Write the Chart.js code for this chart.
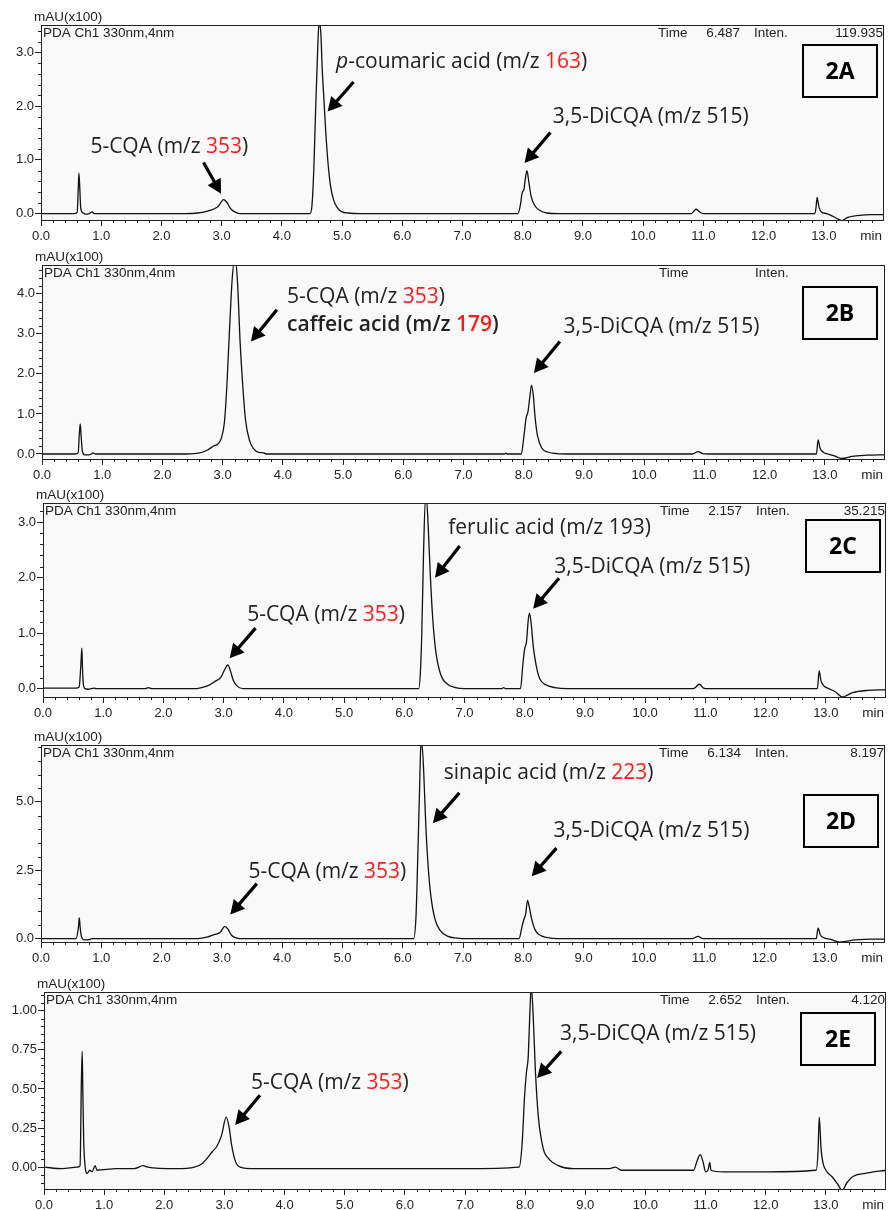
<!DOCTYPE html>
<html><head><meta charset="utf-8">
<script src="https://cdn.jsdelivr.net/npm/chart.js@4.4.1/dist/chart.umd.min.js"></script>
<style>
html,body{margin:0;padding:0;background:#fff;width:889px;height:1210px;overflow:hidden}
canvas{position:absolute;left:0}
</style></head><body>
<canvas id="cA"></canvas><canvas id="cB"></canvas><canvas id="cC"></canvas><canvas id="cD"></canvas><canvas id="cE"></canvas>
<script>
// ---------------- DATA ----------------
const xTickValues = [0,1,2,3,4,5,6,7,8,9,10,11,12,13];

const timeA = [0.00,0.55,0.60,0.62,0.63,0.645,0.66,0.70,0.74,0.80,0.85,0.88,1.50,2.40,2.60,2.75,2.88,2.95,3.03,3.08,3.15,3.22,3.30,4.47,4.50,4.53,4.56,4.59,4.61,4.63,4.65,4.67,4.70,4.73,4.77,4.81,4.86,4.92,5.00,5.10,5.30,7.92,7.96,7.99,8.02,8.05,8.07,8.10,8.14,8.20,8.28,8.40,8.60,10.60,10.80,10.88,10.95,11.00,12.85,12.87,12.89,12.92,12.96,13.05,13.15,13.25,13.30,13.40,13.55,13.80,14.00];
const intenA = [0.00,0.00,0.02,0.50,0.75,0.45,0.10,0.01,-0.01,0.00,0.03,0.00,0.00,0.00,0.01,0.04,0.09,0.14,0.26,0.22,0.09,0.03,0.00,0.00,0.15,0.80,1.90,2.90,3.45,3.55,3.30,2.70,2.10,1.50,0.90,0.50,0.25,0.11,0.03,0.01,0.00,0.00,0.15,0.38,0.45,0.70,0.80,0.60,0.32,0.15,0.06,0.01,0.00,0.00,0.00,0.08,0.02,0.00,0.00,0.10,0.30,0.12,0.03,0.00,-0.05,-0.11,-0.13,-0.07,-0.04,-0.02,-0.02];

const timeB = [0.00,0.55,0.60,0.62,0.635,0.65,0.67,0.71,0.77,0.82,0.85,0.88,2.40,2.60,2.75,2.85,2.92,2.98,3.03,3.07,3.10,3.13,3.16,3.19,3.22,3.25,3.29,3.33,3.38,3.45,3.52,3.60,3.68,3.72,7.68,7.70,7.73,7.96,8.00,8.04,8.07,8.10,8.13,8.16,8.19,8.23,8.30,8.40,8.55,8.80,10.80,10.90,10.97,11.05,12.86,12.89,12.92,12.98,13.05,13.15,13.28,13.35,13.45,13.70,14.00];
const intenB = [0.00,0.00,0.03,0.50,0.75,0.45,0.08,-0.02,-0.02,0.00,0.03,0.00,0.00,0.02,0.10,0.20,0.25,0.40,0.80,1.70,2.65,3.60,4.40,4.78,4.78,4.20,2.80,1.80,0.85,0.32,0.12,0.04,0.03,0.00,0.00,0.02,0.00,0.00,0.40,0.90,1.05,1.40,1.72,1.45,0.90,0.45,0.15,0.05,0.01,0.00,0.00,0.06,0.01,0.00,0.00,0.35,0.15,0.04,0.00,-0.04,-0.11,-0.10,-0.06,-0.03,-0.02];

const timeC = [0.00,0.55,0.60,0.63,0.645,0.655,0.67,0.70,0.75,0.85,0.88,1.70,1.75,1.80,2.50,2.60,2.75,2.87,2.95,3.02,3.07,3.11,3.16,3.22,3.32,6.24,6.27,6.29,6.32,6.35,6.37,6.40,6.43,6.47,6.52,6.60,6.72,6.85,7.00,7.62,7.65,7.68,7.93,7.97,8.00,8.03,8.06,8.08,8.11,8.14,8.19,8.25,8.35,8.50,8.70,10.80,10.90,10.97,11.05,12.86,12.89,12.92,12.98,13.05,13.15,13.28,13.35,13.45,13.70,14.00];
const intenC = [0.01,0.01,0.03,0.45,0.73,0.40,0.08,0.00,-0.01,0.01,0.00,0.00,0.02,0.00,0.00,0.01,0.06,0.14,0.20,0.35,0.43,0.33,0.15,0.05,0.00,0.00,0.35,0.97,2.45,3.40,3.40,2.85,2.10,1.30,0.70,0.27,0.08,0.02,0.00,0.00,0.02,0.00,0.00,0.45,0.72,0.85,1.25,1.36,1.15,0.78,0.42,0.18,0.07,0.02,0.00,0.00,0.08,0.01,0.00,0.00,0.32,0.14,0.04,0.00,-0.05,-0.15,-0.12,-0.07,-0.03,-0.02];

const timeD = [0.00,0.58,0.62,0.635,0.65,0.67,0.72,0.80,0.85,2.60,2.75,2.88,2.97,3.05,3.10,3.16,3.25,3.35,6.18,6.22,6.25,6.28,6.30,6.32,6.35,6.38,6.42,6.47,6.53,6.62,6.75,6.90,7.10,7.93,7.98,8.01,8.04,8.07,8.10,8.14,8.20,8.30,8.45,8.70,10.80,10.90,10.98,12.86,12.89,12.93,13.00,13.10,13.25,13.35,13.50,13.80,14.00];
const intenD = [0.00,0.00,0.40,0.77,0.40,0.08,-0.05,-0.04,0.00,0.00,0.05,0.15,0.22,0.45,0.35,0.12,0.02,0.00,0.00,0.80,3.00,5.50,7.00,7.10,6.00,4.30,2.70,1.50,0.75,0.30,0.08,0.02,0.00,0.00,0.45,0.70,0.90,1.40,1.15,0.70,0.30,0.10,0.02,0.00,0.00,0.08,0.00,0.00,0.38,0.12,0.02,-0.03,-0.13,-0.10,-0.05,-0.02,-0.02];

const timeE = [0.00,0.30,0.55,0.60,0.62,0.635,0.645,0.66,0.68,0.72,0.76,0.80,0.85,0.88,1.20,1.50,1.65,1.72,2.20,2.50,2.62,2.72,2.80,2.87,2.95,3.03,3.08,3.12,3.18,3.26,3.50,4.00,5.00,6.00,7.00,7.90,7.95,7.99,8.02,8.05,8.08,8.10,8.13,8.17,8.22,8.30,8.40,8.55,8.80,9.40,9.50,9.60,10.80,10.86,10.91,10.96,11.00,11.04,11.07,11.09,11.30,12.00,12.84,12.87,12.89,12.92,12.95,13.00,13.10,13.20,13.27,13.35,13.45,13.65,14.00];
const intenE = [0.00,-0.01,0.00,0.01,0.51,0.74,0.50,0.17,0.02,-0.04,-0.02,-0.03,0.01,-0.02,-0.01,-0.01,0.01,0.00,-0.01,0.00,0.02,0.06,0.10,0.13,0.20,0.32,0.25,0.14,0.04,0.00,-0.01,-0.01,-0.01,-0.01,-0.01,0.00,0.15,0.45,0.60,0.70,1.00,1.16,1.00,0.62,0.32,0.12,0.05,0.01,-0.01,-0.01,0.00,-0.02,-0.02,0.04,0.08,0.03,-0.03,-0.02,0.03,-0.02,-0.03,-0.03,-0.02,0.10,0.32,0.12,0.03,-0.02,-0.06,-0.11,-0.15,-0.10,-0.06,-0.04,-0.02];

const yTicksA = [0,1,2,3];
const yTicksB = [0,1,2,3,4];
const yTicksC = [0,1,2,3];
const yTicksD = [0,2.5,5];
const yTicksE = [0,0.25,0.5,0.75,1];

const panelLabels = ['2A','2B','2C','2D','2E'];
const timeReadout = ['6.487','','2.157','6.134','2.652'];
const intenReadout = ['119.935','','35.215','8.197','4.120'];

// ---------------- LAYOUT / STYLE ----------------
const RED = '#ff1a1a';
const panels = [
 {id:'cA', time:timeA, inten:intenA, yt:yTicksA, dec:1, minor:0.2, ymin:-0.12, ymax:3.51,
  box:{top:25,bottom:220,left:41,right:884}, lab:{ro:7,to:20},
  texts:[
   {t:0.82,v:1.23,segs:[['5-CQA (m/z '],['353',RED],[')']]},
   {t:4.90,v:2.83,segs:[['p',null,'italic'],['-coumaric acid (m/z '],['163',RED],[')']]},
   {t:8.50,v:1.80,segs:[['3,5-DiCQA (m/z 515)']]}],
  arrows:[[2.70,0.95,2.99,0.37],[5.19,2.45,4.76,1.90],[8.46,1.51,8.03,0.94]]},
 {id:'cB', time:timeB, inten:intenB, yt:yTicksB, dec:1, minor:0.2, ymin:-0.125, ymax:4.72,
  box:{top:265,bottom:459,left:42,right:885}, lab:{ro:8,to:22},
  texts:[
   {t:4.07,v:3.93,segs:[['5-CQA (m/z '],['353',RED],[')']]},
   {t:4.07,v:3.23,segs:[['caffeic acid (m/z ',null,'600'],['179',RED,'600'],[')',null,'600']]},
   {t:8.66,v:3.18,segs:[['3,5-DiCQA (m/z 515)']]}],
  arrows:[[3.90,3.60,3.47,2.81],[8.60,2.81,8.17,2.02]]},
 {id:'cC', time:timeC, inten:intenC, yt:yTicksC, dec:1, minor:0.2, ymin:-0.15, ymax:3.345,
  box:{top:503,bottom:697,left:43,right:886}, lab:{ro:6,to:17},
  texts:[
   {t:6.73,v:2.89,segs:[['ferulic acid (m/z 193)']]},
   {t:8.49,v:2.20,segs:[['3,5-DiCQA (m/z 515)']]},
   {t:3.39,v:1.33,segs:[['5-CQA (m/z '],['353',RED],[')']]}],
  arrows:[[6.92,2.57,6.51,2.00],[8.57,1.99,8.14,1.44],[3.53,1.09,3.10,0.55]]},
 {id:'cD', time:timeD, inten:intenD, yt:yTicksD, dec:1, minor:0.5, ymin:-0.125, ymax:7.08,
  box:{top:745,bottom:942,left:41,right:885}, lab:{ro:7,to:50},
  texts:[
   {t:6.68,v:6.04,segs:[['sinapic acid (m/z '],['223',RED],[')']]},
   {t:8.50,v:3.94,segs:[['3,5-DiCQA (m/z 515)']]},
   {t:3.44,v:2.44,segs:[['5-CQA (m/z '],['353',RED],[')']]}],
  arrows:[[6.94,5.33,6.50,4.22],[8.55,3.31,8.14,2.28],[3.58,2.01,3.14,0.88]]},
 {id:'cE', time:timeE, inten:intenE, yt:yTicksE, dec:2, minor:0.05, ymin:-0.14, ymax:1.12,
  box:{top:992,bottom:1189,left:44,right:886}, lab:{ro:11,to:21},
  texts:[
   {t:8.58,v:0.85,segs:[['3,5-DiCQA (m/z 515)']]},
   {t:3.44,v:0.54,segs:[['5-CQA (m/z '],['353',RED],[')']]}],
  arrows:[[8.60,0.74,8.20,0.57],[3.59,0.46,3.18,0.27]]}
];

const AXFONT = '"Liberation Sans", Arial, sans-serif';
const ANNFAM = '"Open Sans", "Noto Sans", sans-serif';
const PADTOP = 22, XAXH = 24, W = 889;

function drawArrow(ctx,x1,y1,x2,y2){
  const ang=Math.atan2(y2-y1,x2-x1), hl=14, hw=7.5;
  const bx=x2-hl*Math.cos(ang), by=y2-hl*Math.sin(ang);
  ctx.strokeStyle='#000'; ctx.fillStyle='#000'; ctx.lineWidth=3.2; ctx.lineCap='butt';
  ctx.beginPath(); ctx.moveTo(x1,y1); ctx.lineTo(bx+2*Math.cos(ang),by+2*Math.sin(ang)); ctx.stroke();
  ctx.beginPath(); ctx.moveTo(x2,y2);
  ctx.lineTo(bx+hw*Math.sin(ang), by-hw*Math.cos(ang));
  ctx.lineTo(bx-hw*Math.sin(ang), by+hw*Math.cos(ang));
  ctx.closePath(); ctx.fill();
}

const chromPlugin = {
  id:'chrom',
  beforeDraw(chart){
    const {ctx, chartArea:a} = chart;
    ctx.save(); ctx.fillStyle='#f9f9f9';
    ctx.fillRect(a.left,a.top,a.right-a.left,a.bottom-a.top); ctx.restore();
  },
  afterDraw(chart){
    const p = chart.options.plugins.chrom.panel, idx = chart.options.plugins.chrom.idx;
    const {ctx, chartArea:a, scales:{x,y}} = chart;
    ctx.save();
    // frame
    ctx.strokeStyle='#222'; ctx.lineWidth=1;
    ctx.strokeRect(Math.round(a.left)+0.5, Math.round(a.top)+0.5, Math.round(a.right-a.left)-1, Math.round(a.bottom-a.top));
    // minor ticks
    ctx.beginPath();
    for(let i=1;i<70;i++){ const t=i*0.2; if(Math.abs(t-Math.round(t))<1e-6) continue;
      const px=Math.round(x.getPixelForValue(t))+0.5; if(px>a.right) break;
      ctx.moveTo(px,a.bottom); ctx.lineTo(px,a.bottom+3); }
    const n0=Math.ceil(p.ymin/p.minor), n1=Math.floor(p.ymax/p.minor);
    for(let k=n0;k<=n1;k++){ const v=k*p.minor;
      if(p.yt.some(tv=>Math.abs(tv-v)<1e-6)) continue;
      const py=Math.round(y.getPixelForValue(v))+0.5;
      ctx.moveTo(a.left-3,py); ctx.lineTo(a.left,py); }
    ctx.stroke();
    // header texts
    ctx.fillStyle='#222'; ctx.textBaseline='middle'; ctx.font='13.5px '+AXFONT;
    ctx.textAlign='left';
    ctx.fillText('mAU(x100)', a.left-7, a.top-8);
    ctx.fillText('PDA Ch1 330nm,4nm', a.left+2, a.top+8);
    ctx.fillText('Time', a.right-226, a.top+8);
    ctx.fillText('Inten.', a.right-130, a.top+8);
    ctx.textAlign='right';
    ctx.fillText(timeReadout[idx], a.right-144, a.top+8);
    ctx.fillText(intenReadout[idx], a.right-1, a.top+8);
    ctx.fillText('min', a.right-2, a.bottom+16);
    // annotations
    ctx.textAlign='left';
    p.texts.forEach(tx=>{
      let cx=x.getPixelForValue(tx.t); const cy=y.getPixelForValue(tx.v);
      tx.segs.forEach(s=>{
        const st = s[2]==='italic'?'italic ':'', wt = s[2]==='600'?'600 ':'';
        ctx.font = st+wt+'21px '+ANNFAM; ctx.fillStyle = s[1]||'#222';
        ctx.fillText(s[0], cx, cy); cx += ctx.measureText(s[0]).width;
      });
    });
    p.arrows.forEach(r=>drawArrow(ctx, x.getPixelForValue(r[0]), y.getPixelForValue(r[1]), x.getPixelForValue(r[2]), y.getPixelForValue(r[3])));
    // panel label box
    const bw=74, bh=52, bx=a.right-p.lab.ro-bw, by=a.top+p.lab.to;
    ctx.strokeStyle='#000'; ctx.lineWidth=2; ctx.strokeRect(bx,by,bw,bh);
    ctx.fillStyle='#000'; ctx.font='bold 23px '+ANNFAM; ctx.textAlign='center';
    ctx.fillText(panelLabels[idx], bx+bw/2, by+bh/2+1);
    ctx.restore();
  }
};

panels.forEach((p,idx)=>{
  const cv=document.getElementById(p.id);
  const h = PADTOP + (p.box.bottom-p.box.top) + XAXH;
  cv.width=W; cv.height=h; cv.style.width=W+'px'; cv.style.height=h+'px';
  cv.style.top=(p.box.top-PADTOP)+'px';
  const pts = p.time.map((t,i)=>({x:t,y:p.inten[i]}));
  new Chart(cv.getContext('2d'), {
    type:'line',
    data:{datasets:[{data:pts, borderColor:'#111', borderWidth:1.3, pointRadius:0, cubicInterpolationMode:'monotone', fill:false}]},
    plugins:[chromPlugin],
    options:{
      responsive:false, animation:false, devicePixelRatio:1,
      layout:{padding:{top:PADTOP,left:0,right:W-p.box.right,bottom:0}},
      plugins:{legend:{display:false}, tooltip:{enabled:false}, chrom:{panel:p, idx:idx}},
      scales:{
        x:{type:'linear', min:0, max:14,
           afterBuildTicks:s=>{s.ticks=xTickValues.map(v=>({value:v}));},
           afterFit:s=>{s.height=XAXH;},
           ticks:{callback:v=>Number(v).toFixed(1), maxRotation:0, autoSkip:false, padding:3, color:'#222', font:{family:'Liberation Sans', size:13}},
           grid:{drawOnChartArea:false, drawTicks:true, tickLength:6, color:'#222'},
           border:{display:false}},
        y:{type:'linear', min:p.ymin, max:p.ymax,
           afterBuildTicks:s=>{s.ticks=p.yt.map(v=>({value:v}));},
           afterFit:s=>{s.width=p.box.left;},
           ticks:{callback:v=>Number(v).toFixed(p.dec), autoSkip:false, padding:1, color:'#222', font:{family:'Liberation Sans', size:13}},
           grid:{drawOnChartArea:false, drawTicks:true, tickLength:6, color:'#222'},
           border:{display:false}}
      }
    }
  });
});
</script>
</body></html>
